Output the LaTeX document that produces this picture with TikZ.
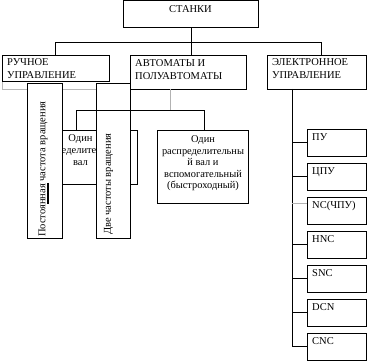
\documentclass[tikz,border=0pt]{standalone}
\usepackage{fontspec}
\setmainfont{Liberation Serif}
\begin{document}
\begin{tikzpicture}[x=1pt,y=-1pt,
  ln/.style={line width=0.8pt},
  bx/.style={draw, line width=0.8pt, fill=white, inner sep=0pt, outer sep=0pt, anchor=north west},
  sub/.style={bx, minimum width=59pt, minimum height=27pt},
  tx/.style={inner sep=0pt, font=\fontsize{10.5}{12.8}\selectfont},
  txb/.style={inner sep=0pt, font=\fontsize{10.4}{11.5}\selectfont},
]
\useasboundingbox (0,0) rectangle (368,361);

% faint trace under the first group
\draw[line width=0.8pt, gray!55] (2,81) -- (2,89) -- (96,89);

% top level boxes
\node[bx, minimum width=135pt, minimum height=27pt] (stanki) at (123.5,0.5) {};
\node[tx, anchor=north] (stankit) at (190.5,5.8) {СТАНКИ};

\node[bx, minimum width=107pt, minimum height=26pt] (ruch) at (2,55) {};
\node[tx, anchor=north west, align=left] (rucht) at (7,58.8) {РУЧНОЕ\\УПРАВЛЕНИЕ};

\node[bx, minimum width=115.5pt, minimum height=34pt] (avt) at (130.5,55) {};
\node[tx, anchor=north west, align=left] (avtt) at (135,59.5) {АВТОМАТЫ И\\ПОЛУАВТОМАТЫ};

\node[bx, minimum width=99pt, minimum height=34pt] (el) at (267,55) {};
\node[tx, anchor=north west, align=left] (elt) at (272,58.8) {ЭЛЕКТРОННОЕ\\УПРАВЛЕНИЕ};

% partly hidden box
\node[bx, minimum width=75pt, minimum height=54pt] (odA) at (62,130) {};
\begin{scope}
  \clip (62,130) rectangle (137,184);
  \node[tx, font=\fontsize{10.5}{12}\selectfont, align=center, anchor=north] (odAt) at (80.5,134.8) {Один\\распределительный\\вал};
\end{scope}

% vertical boxes
\node[bx, minimum width=35pt, minimum height=155pt] (v1) at (27,83) {};
\node[tx, rotate=90, anchor=west] (v1t) at (43,237) {Постоянная частота вращения};
\draw[line width=1.2pt] (48,183) -- (48,204);

\node[bx, minimum width=34pt, minimum height=155pt] (v2) at (96,83) {};
\node[tx, rotate=90, anchor=west] (v2t) at (108.5,235) {Две частоты вращения};

% second automatic box
\node[bx, minimum width=91pt, minimum height=73pt] (odB) at (157,130) {};
\node[txb, align=center, anchor=north] (odBt) at (203,135.8) {Один\\распределительны\\й вал и\\вспомогательный\\(быстроходный)};

% electronic sub boxes
\node[sub] (pu)  at (307,129) {};
\node[sub] (cpu) at (307,163) {};
\node[sub] (nc)  at (307,197) {};
\node[sub] (hnc) at (307,231) {};
\node[sub] (snc) at (307,265) {};
\node[sub] (dcn) at (307,299) {};
\node[sub] (cnc) at (307,333) {};
\node[tx, anchor=base west] (put)  at (312,141) {ПУ};
\node[tx, anchor=base west] (cput) at (312,175) {ЦПУ};
\node[tx, anchor=base west] (nct)  at (312,209) {NC(ЧПУ)};
\node[tx, anchor=base west] (hnct) at (312,243) {HNC};
\node[tx, anchor=base west] (snct) at (312,277) {SNC};
\node[tx, anchor=base west] (dcnt) at (312,311) {DCN};
\node[tx, anchor=base west] (cnct) at (312,345) {CNC};

% connectors
\coordinate (bL) at (55,42);
\coordinate (bR) at (321,42);
\draw[ln] (ruch.north -| bL) -- (bL) -- (bR) -- (bR |- el.north);
\draw[ln] (stanki.south) -- (stanki.south |- avt.north);

\coordinate (am) at (170,110);
\coordinate (cL) at (76,110);
\coordinate (cR) at (204,110);
\draw[line width=0.8pt, gray!60] (avt.south -| am) -- (am);
\draw[ln] (cL |- odA.north) -- (cL) -- (cR) -- (cR |- odB.north);

\coordinate (tr) at (292.5,0);
\draw[ln] (el.south -| tr) -- (tr |- cnc.west);
\draw[ln] (tr |- pu.west) -- (pu.west);
\draw[ln] (tr |- cpu.west) -- (cpu.west);
\draw[line width=0.8pt, gray!60] ([yshift=7pt]tr |- nc.west) -- ([yshift=7pt]nc.west);
\draw[ln] (tr |- hnc.west) -- (hnc.west);
\draw[ln] (tr |- snc.west) -- (snc.west);
\draw[ln] (tr |- dcn.west) -- (dcn.west);
\draw[ln] (tr |- cnc.west) -- (cnc.west);
\end{tikzpicture}
\end{document}
